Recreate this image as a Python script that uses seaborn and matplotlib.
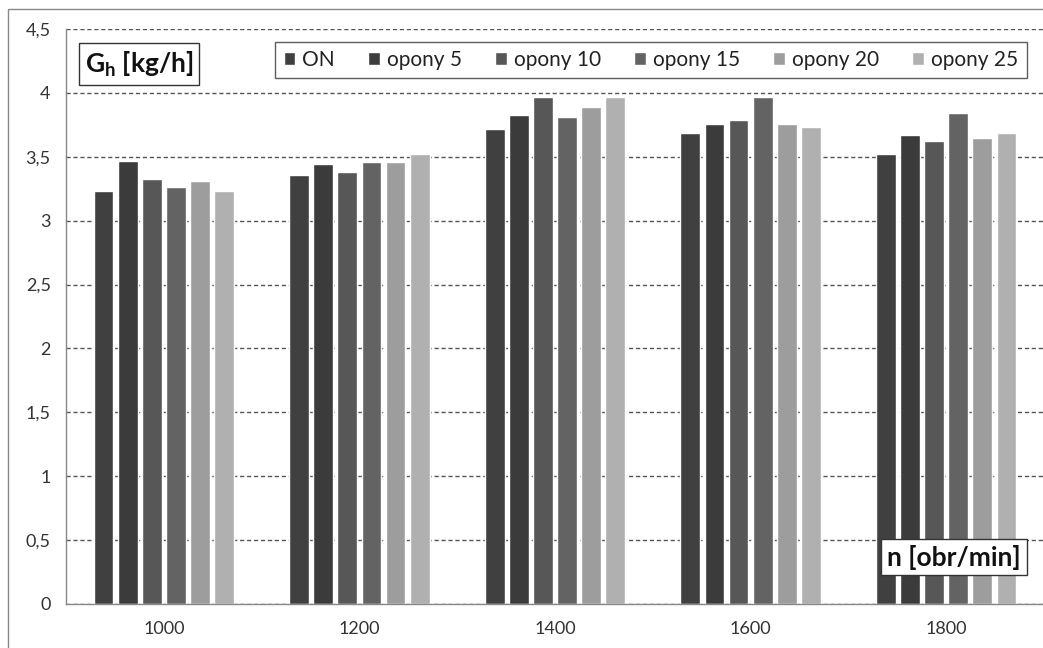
import pandas as pd
import seaborn as sns
import matplotlib.pyplot as plt
from matplotlib.patches import Rectangle
from matplotlib.ticker import MultipleLocator, FuncFormatter

# rotational speed groups and fuel series
speeds = ['1000', '1200', '1400', '1600', '1800']
fuels = ['ON', 'opony 5', 'opony 10', 'opony 15', 'opony 20', 'opony 25']

on = [3.23, 3.36, 3.72, 3.69, 3.52]
opony5 = [3.47, 3.44, 3.83, 3.76, 3.67]
opony10 = [3.33, 3.38, 3.97, 3.79, 3.62]
opony15 = [3.26, 3.46, 3.81, 3.97, 3.84]
opony20 = [3.31, 3.46, 3.89, 3.76, 3.65]
opony25 = [3.23, 3.52, 3.97, 3.73, 3.69]

colors = ['#404040', '#3b3b3b', '#575757', '#636363', '#9d9d9d', '#b0b0b0']


def create_plot():
    series = [on, opony5, opony10, opony15, opony20, opony25]
    rows = []
    for fuel, vals in zip(fuels, series):
        for s, v in zip(speeds, vals):
            rows.append({'n': s, 'fuel': fuel, 'G': v})
    df = pd.DataFrame(rows)

    sns.set_style('white')
    plt.rcParams['font.family'] = ['Lato', 'DejaVu Sans']
    plt.rcParams['mathtext.fontset'] = 'custom'
    plt.rcParams['mathtext.rm'] = 'Lato'
    plt.rcParams['mathtext.bf'] = 'Lato:bold'

    fig = plt.figure(figsize=(10.43, 6.48), dpi=100)
    W, H = 1043, 648
    ax = fig.add_axes([66 / W, 1 - 604 / H, 978 / W, 575 / H])

    sns.barplot(data=df, x='n', y='G', hue='fuel', order=speeds, hue_order=fuels,
                palette=colors, width=0.74, gap=0.18, ax=ax, legend=True,
                saturation=1, errorbar=None)

    ax.set_ylim(0, 4.5)
    ax.set_xlim(-0.5, 4.5)
    ax.yaxis.set_major_locator(MultipleLocator(0.5))
    ax.yaxis.set_major_formatter(FuncFormatter(lambda v, _: f'{v:g}'.replace('.', ',')))
    ax.yaxis.grid(True, linestyle=(0, (3, 2)), color='#555555', linewidth=1)
    ax.set_axisbelow(True)

    ax.set_xticks(range(len(speeds)))
    ax.set_xticklabels(speeds)
    ax.set_xticks([i - 0.5 for i in range(len(speeds) + 1)], minor=True)
    ax.tick_params(axis='x', which='major', length=0, pad=12, labelsize=13, labelcolor='#333333')
    ax.tick_params(axis='x', which='minor', length=5, color='#888888', direction='out')
    ax.tick_params(axis='y', length=5, color='#888888', direction='out', pad=6,
                   labelsize=13, labelcolor='#333333')
    ax.set_xlabel('')
    ax.set_ylabel('')

    for side in ['top', 'right']:
        ax.spines[side].set_visible(False)
    for side in ['left', 'bottom']:
        ax.spines[side].set_color('#888888')
        ax.spines[side].set_linewidth(1)

    handles, labels = ax.get_legend_handles_labels()
    ax.get_legend().remove()
    leg = fig.legend(handles, labels, loc='center', ncol=6, mode='expand',
                     bbox_to_anchor=(265 / W, 1 - 80 / H, 772 / W, 40 / H),
                     bbox_transform=fig.transFigure, fontsize=15,
                     handlelength=0.55, handleheight=0.55, handletextpad=0.35,
                     borderpad=0.4, fancybox=False, frameon=True)
    leg.get_frame().set_edgecolor('#333333')
    leg.get_frame().set_linewidth(1)
    for t in leg.get_texts():
        t.set_color('#222222')

    box = dict(boxstyle='square,pad=0.22', facecolor='white', edgecolor='#333333', linewidth=1)
    fig.text(139 / W, 1 - 64 / H, r'$\mathbf{G}_{\mathbf{h}}$ [kg/h]', fontsize=19,
             fontweight='bold', ha='center', va='center', color='#111111', bbox=box)
    fig.text(954 / W, 1 - 557 / H, 'n [obr/min]', fontsize=19, fontweight='bold',
             ha='center', va='center', color='#111111', bbox=box)

    # outer chart frame, cut at the right and bottom edges
    fig.add_artist(Rectangle((8 / W, -0.1), 1.2, 1 - 9 / H + 0.1, transform=fig.transFigure,
                             fill=False, edgecolor='#888888', linewidth=1))

    fig.savefig('out.png', dpi=100)


if __name__ == "__main__":
    create_plot()
